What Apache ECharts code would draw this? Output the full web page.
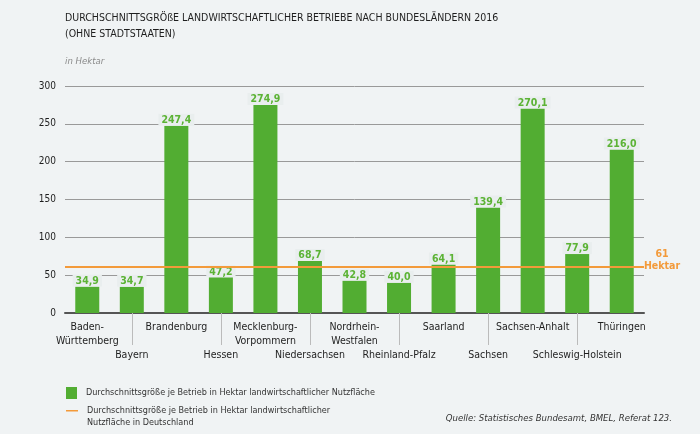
<!DOCTYPE html>
<html><head><meta charset="utf-8">
<script src="https://cdn.jsdelivr.net/npm/echarts@6/dist/echarts.min.js"></script>
<style>html,body{margin:0;padding:0;background:#f0f3f4;}#c{width:700px;height:434px;}</style>
</head><body><div id="c"></div>
<script>
const categories = ['Baden-\nWürttemberg','Bayern','Brandenburg','Hessen','Mecklenburg-\nVorpommern','Niedersachsen','Nordrhein-\nWestfalen','Rheinland-Pfalz','Saarland','Sachsen','Sachsen-Anhalt','Schleswig-Holstein','Thüringen'];
const values = [34.9,34.7,247.4,47.2,274.9,68.7,42.8,40.0,64.1,139.4,270.1,77.9,216.0];
const germanyAvg = 61;
const yTicks = [0,50,100,150,200,250,300];
const barName = 'Durchschnittsgröße je Betrieb in Hektar landwirtschaftlicher Nutzfläche';
const lineName = 'Durchschnittsgröße je Betrieb in Hektar landwirtschaftlicher\nNutzfläche in Deutschland';
const FONT = '"Liberation Sans Narrow","DejaVu Sans Condensed",sans-serif';

const chart = echarts.init(document.getElementById('c'));
chart.setOption({
  backgroundColor: '#f0f3f4',
  textStyle: {fontFamily: FONT},
  title: {
    text: 'DURCHSCHNITTSGRÖßE LANDWIRTSCHAFTLICHER BETRIEBE NACH BUNDESLÄNDERN 2016\n(OHNE STADTSTAATEN)',
    left: 65, top: 10, padding: 0,
    textStyle: {fontFamily: FONT, fontSize: 10.5, fontWeight: 'normal', color: '#1e1e1e', lineHeight: 16}
  },
  graphic: [
    {type:'text', left: 65, top: 57, style:{text:'in Hektar', font:'italic 9.5px '+FONT, fill:'#8a8a8a'}},
    {type:'text', right: 28, top: 414, style:{text:'Quelle: Statistisches Bundesamt, BMEL, Referat 123.', font:'italic 9.5px '+FONT, fill:'#333'}}
  ],
  legend: [
    {
      left: 61, top: 382, itemWidth: 11, itemHeight: 12, itemGap: 8,
      textStyle: {fontFamily: FONT, fontSize: 9, color: '#333', padding: [0,0,0,4]},
      data: [{name: barName, icon: 'rect', itemStyle:{color:'#52ad32'}}]
    },
    {
      left: 61, top: 400, itemWidth: 12, itemHeight: 24, itemGap: 8,
      textStyle: {fontFamily: FONT, fontSize: 9, color: '#333', lineHeight: 12, padding: [0,0,0,4]},
      data: [{name: lineName, icon: 'path://M0,5L12,5L12,6.6L0,6.6Z M0,0L0.01,0L0.01,0.01Z M0,24L0.01,24L0.01,24.01Z', itemStyle:{color:'#f39a3a'}}]
    }
  ],
  grid: {left: 65, right: 56, top: 86, bottom: 121},
  xAxis: {
    type: 'category', data: categories,
    axisLine: {lineStyle: {color: '#555', width: 2}},
    axisTick: {show: true, alignWithLabel: true, length: 32, interval: (i) => i % 2 === 1, lineStyle:{color:'#bbb'}},
    axisLabel: {
      interval: 0, color: '#1e1e1e', fontSize: 10.5, lineHeight: 14, margin: 7,
      formatter: (v, i) => i % 2 === 1 ? '\n\n' + v : v
    }
  },
  yAxis: {
    type: 'value', min: 0, max: 300, interval: 50,
    axisLine: {show: false}, axisTick: {show: false},
    axisLabel: {color: '#1e1e1e', fontSize: 10, margin: 9, formatter: v => yTicks.includes(v) ? String(v) : ''},
    splitLine: {lineStyle: {color: '#999', width: 1}}
  },
  series: [
    {
      name: barName, type: 'bar', data: values, barWidth: 24,
      itemStyle: {color: '#52ad32'},
      label: {
        show: true, position: 'top', distance: 0, color: '#5cb335', fontWeight: 'bold', fontSize: 10.5,
        backgroundColor: '#e9eeee', padding: [1,3,0,3],
        formatter: p => p.value.toFixed(1).replace('.', ',')
      }
    },
    {
      name: lineName, type: 'line', data: [], itemStyle:{color:'#f39a3a'},
      markLine: {
        silent: true, symbol: 'none',
        lineStyle: {color: '#f39a3a', width: 2, type: 'solid'},
        label: {show: true, position: 'end', distance: 8, formatter: germanyAvg + '\nHektar', color: '#f39a3a', fontWeight: 'bold', fontSize: 10.5, lineHeight: 12, align:'center', verticalAlign: 'middle', offset: [0, -7], padding:[0,0,0,20]},
        data: [{yAxis: germanyAvg}]
      }
    }
  ]
});
</script></body></html>
